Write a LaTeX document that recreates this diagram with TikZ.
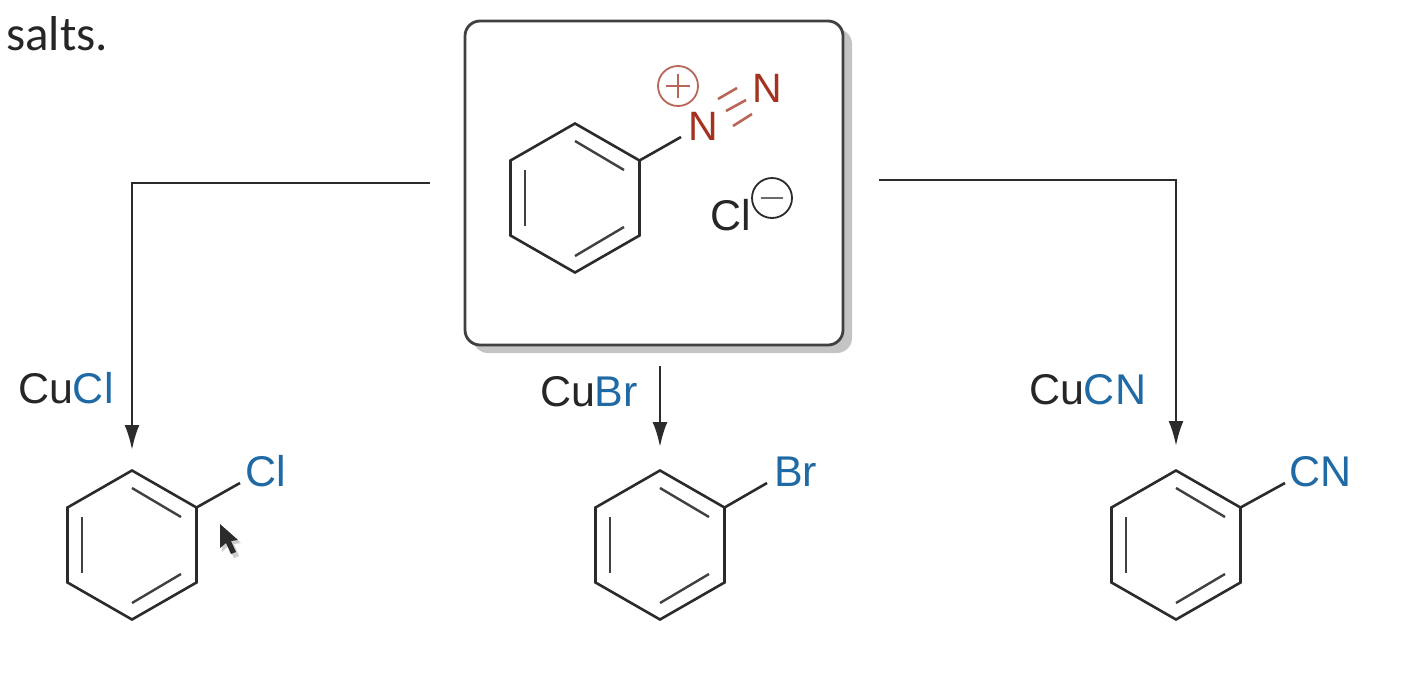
\documentclass[tikz,border=0pt]{standalone}
\usepackage{fontspec}
\setmainfont{Liberation Sans}
\newfontfamily\bodyfont{Carlito}
\usetikzlibrary{arrows.meta}
\definecolor{ink}{HTML}{2B2B2B}
\definecolor{azo}{HTML}{A5321F}
\definecolor{azolight}{HTML}{B8665A}
\definecolor{halo}{HTML}{1F6AA5}
\definecolor{shadowgrey}{HTML}{C4C4C4}
\newcommand{\ringat}[3]{%
  \begin{scope}[shift={(#2,#3)}]
    \coordinate (#1-t) at (0,-74.5);
    \coordinate (#1-ur) at (64.5,-37.5);
    \coordinate (#1-lr) at (64.5,37.5);
    \coordinate (#1-b) at (0,74.5);
    \coordinate (#1-ll) at (-64.5,37.5);
    \coordinate (#1-ul) at (-64.5,-37.5);
    \draw[bondline,line join=miter] (#1-t) -- (#1-ur) -- (#1-lr) -- (#1-b) -- (#1-ll) -- (#1-ul) -- cycle;
    \draw[innerbond] (0,-57) -- (49,-28);
    \draw[innerbond] (-50,-28) -- (-50,28);
    \draw[innerbond] (0,58) -- (49,29);
  \end{scope}}
\begin{document}
\begin{tikzpicture}[x=1pt,y=-1pt,
  bondline/.style={draw=ink,line width=2.6pt},
  innerbond/.style={draw=ink!90,line width=2.4pt},
  flow/.style={draw=ink,line width=2.6pt,-{Latex[length=25pt,width=15pt]}},
  chem/.style={inner sep=0pt,outer sep=0pt,anchor=base west,font=\fontsize{43}{43}\selectfont,text=black!85},
  azotext/.style={chem,text=azo,font=\fontsize{41}{41}\selectfont},
  halotext/.style={chem,text=halo},
  charge/.style={circle,inner sep=0pt,minimum size=40pt,line width=1.8pt},
  frame/.style={draw=ink!90,line width=2.8pt,rounded corners=15pt,fill=white},
]
\useasboundingbox (0,0) rectangle (1410,686);
% caption
\node[inner sep=0pt,anchor=base west,font=\bodyfont\fontsize{49}{49}\selectfont,text=black!85] (caption) at (6,50) {salts.};
% central box
\fill[shadowgrey,rounded corners=15pt] (473,29) rectangle (852,353);
\node[frame,minimum width=378pt,minimum height=324pt,inner sep=0pt] (box) at (654,183) {};
\ringat{main}{575}{198}
\node[azotext] (nplus) at (688,140) {N};
\node[azotext] (nend) at (752,102) {N};
\coordinate (nbond) at (681,137);
\draw[bondline] (main-ur) -- (nbond);
\draw[azolight,line width=2.6pt] (718,99) -- (737,88);
\draw[azolight,line width=2.6pt] (726,111) -- (746,100);
\draw[azolight,line width=2.6pt] (733,126) -- (752,114);
\node[charge,draw=azolight] (plus) at (678,86) {};
\draw[azolight,line width=2.4pt] (666,86) -- (690,86) (678,74) -- (678,98);
\node[chem] (chloride) at (710,230) {Cl};
\node[charge,draw=ink] (minus) at (772,198) {};
\draw[ink!70,line width=2.4pt] (761,198) -- (783,198);
% connectors
\coordinate (leftstart) at (430,183);
\coordinate (leftbend) at (132,183);
\coordinate (lefttip) at (132,450);
\coordinate (midstart) at (660,366);
\coordinate (midtip) at (660,447);
\coordinate (rightstart) at (879,180);
\coordinate (rightbend) at (1176,180);
\coordinate (righttip) at (1176,446);
\draw[flow] (leftstart) -- (leftbend) -- (lefttip);
\draw[flow] (midstart) -- (midtip);
\draw[flow] (rightstart) -- (rightbend) -- (righttip);
% reagents
\node[chem] (cucl) at (18,403) {Cu{\color{halo}Cl}};
\node[chem] (cubr) at (540,406) {Cu{\color{halo}Br}};
\node[chem] (cucn) at (1029,404) {Cu{\color{halo}CN}};
% products
\ringat{pa}{132}{545}
\ringat{pb}{660}{545}
\ringat{pc}{1176}{545}
\coordinate (pa-end) at (240,483);
\coordinate (pb-end) at (767,483);
\coordinate (pc-end) at (1285,483);
\draw[bondline] (pa-ur) -- (pa-end);
\draw[bondline] (pb-ur) -- (pb-end);
\draw[bondline] (pc-ur) -- (pc-end);
\node[halotext] (cl) at (245,486) {Cl};
\node[halotext] (br) at (774,486) {Br};
\node[halotext] (cn) at (1289,486) {CN};
% pointer
\fill[black!55,opacity=.35] (222,526) -- (222,552) -- (228,546) -- (234,558) -- (239,556) -- (234,544) -- (241,543) -- cycle;
\fill[ink] (220,524) -- (220,548) -- (226,543) -- (231,554) -- (236,552) -- (231,541) -- (238,540) -- cycle;
\end{tikzpicture}
\end{document}
